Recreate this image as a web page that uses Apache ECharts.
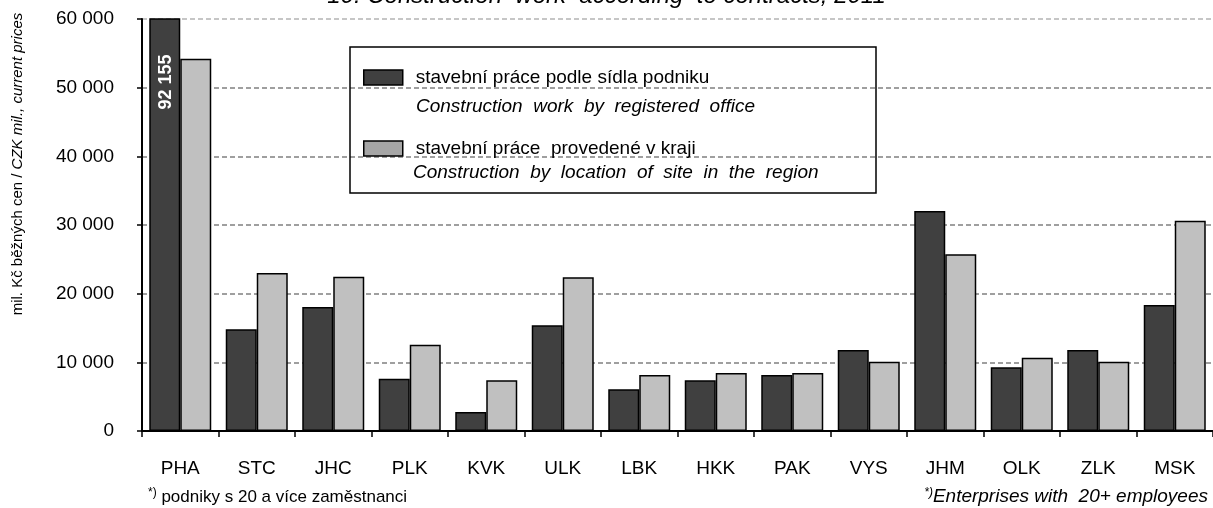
<!DOCTYPE html>
<html>
<head>
<meta charset="utf-8">
<script src="https://cdn.jsdelivr.net/npm/echarts@6/dist/echarts.min.js"></script>
<style>
    html, body { margin: 0; padding: 0; background: #fff; }
    #chart { width: 1213px; height: 508px; }
</style>
</head>
<body>
<div id="chart"></div>
<script>
    // kraje
    const regions = ['PHA', 'STC', 'JHC', 'PLK', 'KVK', 'ULK', 'LBK', 'HKK', 'PAK', 'VYS', 'JHM', 'OLK', 'ZLK', 'MSK']
    // stavebni prace podle sidla podniku (mil. Kc)
    const byOffice = [92155, 14800, 18050, 7600, 2770, 15400, 6070, 7380, 8150, 11800, 32040, 9270, 11800, 18350]
    // stavebni prace provedene v kraji (mil. Kc)
    const bySite = [54200, 23000, 22450, 12570, 7380, 22400, 8150, 8450, 8450, 10100, 25730, 10680, 10100, 30620]
    const yTicks = [0, 10000, 20000, 30000, 40000, 50000, 60000]

    const fmt = v => String(v).replace(/\B(?=(\d{3})+(?!\d))/g, ' ')
    const font = '"Liberation Sans", Arial, sans-serif'

    const chart = echarts.init(document.getElementById('chart'))
    chart.setOption({
        animation: false,
        textStyle: { fontFamily: font },
        title: {
            text: '10. Construction  work  according  to contracts, 2011',
            left: 'center',
            top: -21,
            textStyle: { fontSize: 24, fontStyle: 'italic', fontWeight: 'normal', color: '#000', fontFamily: font }
        },
        grid: {
            left: 142,
            top: 19,
            width: 1081.5,
            bottom: 77,
            containLabel: false
        },
        legend: {
            orient: 'vertical',
            left: 358,
            top: 63,
            itemWidth: 39,
            itemHeight: 15,
            itemGap: 52,
            icon: 'rect',
            textStyle: { fontSize: 19, color: '#000', padding: [0, 0, 0, 8], fontFamily: font },
            data: [
                { name: 'stavební práce podle sídla podniku', itemStyle: { color: '#404040', borderColor: '#000', borderWidth: 1.5 } },
                { name: 'stavební práce  provedené v kraji', itemStyle: { color: '#a6a6a6', borderColor: '#000', borderWidth: 1.5 } }
            ]
        },
        xAxis: {
            type: 'category',
            data: regions,
            axisLine: { lineStyle: { color: '#000', width: 2 } },
            axisTick: { show: true, length: 6, lineStyle: { color: '#000', width: 1.5 } },
            axisLabel: { fontSize: 19, color: '#000', margin: 28 }
        },
        yAxis: {
            type: 'value',
            min: yTicks[0],
            max: yTicks[yTicks.length - 1],
            interval: 10000,
            axisLine: { show: true, lineStyle: { color: '#000', width: 2 } },
            axisTick: { show: true, length: 5, lineStyle: { color: '#000', width: 1.5 } },
            axisLabel: { fontSize: 19, color: '#000', margin: 28, formatter: v => fmt(v) },
            splitLine: {
                show: true,
                lineStyle: {
                    type: [5, 3],
                    width: 1.5,
                    color: ['#808080', '#808080', '#808080', '#808080', '#808080', '#808080', '#b4b4b4']
                }
            }
        },
        series: [{
            name: 'stavební práce podle sídla podniku',
            type: 'bar',
            data: byOffice,
            barWidth: 31,
            barGap: '0%',
            clip: true,
            itemStyle: { color: '#404040', borderColor: '#000', borderWidth: 1.5 }
        }, {
            name: 'stavební práce  provedené v kraji',
            type: 'bar',
            data: bySite,
            barWidth: 31,
            barGap: '0%',
            clip: true,
            itemStyle: { color: '#c0c0c0', borderColor: '#000', borderWidth: 1.5 }
        }],
        graphic: [
            // ramecek legendy
            {
                type: 'rect',
                shape: { x: 350, y: 47, width: 526, height: 146 },
                style: { fill: 'none', stroke: '#000', lineWidth: 1.5 },
                z: 5
            },
            {
                type: 'text', x: 416, y: 107,
                style: { text: 'Construction  work  by  registered  office', fontSize: 19, fontStyle: 'italic', fontFamily: font, fill: '#000', verticalAlign: 'middle' }
            },
            {
                type: 'text', x: 413, y: 173,
                style: { text: 'Construction  by  location  of  site  in  the  region', fontSize: 19, fontStyle: 'italic', fontFamily: font, fill: '#000', verticalAlign: 'middle' }
            },
            // popisek osy y
            {
                type: 'text', x: 18, y: 164, rotation: Math.PI / 2,
                style: {
                    text: '{n|mil. Kč běžných cen / }{i|CZK mil., current prices}',
                    align: 'center', verticalAlign: 'middle',
                    rich: {
                        n: { fontSize: 15, fontFamily: font, fill: '#000' },
                        i: { fontSize: 15, fontFamily: font, fontStyle: 'italic', fill: '#000' }
                    }
                }
            },
            // hodnota PHA mimo stupnici
            {
                type: 'text', x: 166, y: 82, rotation: Math.PI / 2, z: 10,
                style: { text: fmt(byOffice[0]), fontSize: 18, fontWeight: 'bold', fontFamily: font, fill: '#fff', align: 'center', verticalAlign: 'middle' }
            },
            // poznamky
            {
                type: 'text', x: 148, y: 497,
                style: {
                    text: '{s|*)}{t| podniky s 20 a více zaměstnanci}',
                    verticalAlign: 'middle',
                    rich: {
                        s: { fontSize: 12, fontFamily: font, fill: '#000', padding: [0, 0, 9, 0] },
                        t: { fontSize: 17, fontFamily: font, fill: '#000' }
                    }
                }
            },
            {
                type: 'text', x: 1208, y: 497,
                style: {
                    text: '{s|*)}{t|Enterprises with  20+ employees}',
                    align: 'right', verticalAlign: 'middle',
                    rich: {
                        s: { fontSize: 12, fontFamily: font, fontStyle: 'italic', fill: '#000', padding: [0, 0, 9, 0] },
                        t: { fontSize: 19, fontFamily: font, fontStyle: 'italic', fill: '#000' }
                    }
                }
            }
        ]
    })
</script>
</body>
</html>
